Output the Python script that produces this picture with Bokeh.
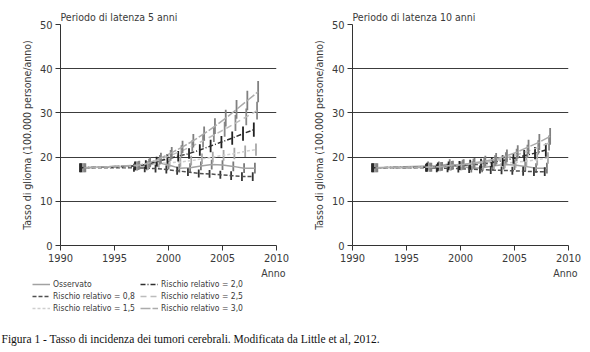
from bokeh.plotting import figure
from bokeh.layouts import column, row
from bokeh.models import ColumnDataSource, Label, Legend, LegendItem, Range1d, FixedTicker, Title
from bokeh.embed import file_html
from bokeh.resources import INLINE

# ---------------- data ----------------
years = [1992, 1997, 1998, 1999, 2000, 2001, 2002, 2003, 2004, 2005, 2006, 2007, 2008]

series_names = ["Osservato", "Rischio relativo = 0,8", "Rischio relativo = 1,5",
                "Rischio relativo = 2,0", "Rischio relativo = 2,5", "Rischio relativo = 3,0"]

# Panel 1: latency period 5 years
p5_obs  = [17.6, 18.0, 18.0, 18.8, 18.2, 17.5, 17.6, 18.0, 18.3, 18.2, 17.9, 17.5, 17.5]
p5_rr08 = [17.6, 17.6, 17.5, 17.4, 17.2, 16.9, 16.6, 16.3, 16.2, 16.0, 15.8, 15.6, 15.6]
p5_rr15 = [17.6, 17.9, 18.1, 18.6, 18.7, 18.9, 19.2, 19.6, 20.0, 20.4, 20.8, 21.3, 21.7]
p5_rr20 = [17.6, 18.0, 18.3, 19.0, 19.6, 20.2, 20.8, 21.6, 22.5, 23.4, 24.3, 25.3, 26.2]
p5_rr25 = [17.6, 18.1, 18.6, 19.4, 20.4, 21.4, 22.5, 23.7, 25.0, 26.3, 27.7, 29.1, 30.5]
p5_rr30 = [17.6, 18.2, 18.8, 19.8, 21.0, 22.3, 23.7, 25.3, 27.0, 28.8, 30.8, 32.8, 34.8]

p5_err_obs  = [1.0, 1.0, 1.0, 1.0, 1.0, 1.0, 1.0, 1.0, 1.1, 1.1, 1.1, 1.1, 1.2]
p5_err_rr08 = [1.0, 0.9, 0.9, 0.9, 0.9, 0.9, 0.9, 0.9, 0.9, 0.9, 1.0, 1.0, 1.0]
p5_err_rr15 = [1.0, 1.0, 1.0, 1.0, 1.0, 1.1, 1.1, 1.2, 1.2, 1.2, 1.3, 1.3, 1.4]
p5_err_rr20 = [1.0, 1.0, 1.0, 1.1, 1.1, 1.2, 1.2, 1.3, 1.4, 1.4, 1.5, 1.6, 1.6]
p5_err_rr25 = [1.0, 1.0, 1.0, 1.1, 1.2, 1.3, 1.3, 1.5, 1.6, 1.7, 1.8, 1.9, 2.0]
p5_err_rr30 = [1.0, 1.0, 1.1, 1.2, 1.3, 1.4, 1.5, 1.6, 1.8, 1.9, 2.1, 2.2, 2.4]

# Panel 2: latency period 10 years
p10_obs  = [17.6, 18.0, 18.0, 18.5, 18.0, 17.5, 17.6, 18.0, 18.3, 18.2, 17.9, 17.5, 17.5]
p10_rr08 = [17.6, 17.6, 17.5, 17.5, 17.4, 17.3, 17.2, 17.1, 17.0, 16.9, 16.8, 16.7, 16.7]
p10_rr15 = [17.6, 17.7, 17.8, 17.9, 18.0, 18.1, 18.2, 18.4, 18.6, 18.8, 19.1, 19.4, 19.8]
p10_rr20 = [17.6, 17.7, 17.8, 18.0, 18.1, 18.3, 18.5, 18.8, 19.2, 19.7, 20.3, 20.9, 21.6]
p10_rr25 = [17.6, 17.7, 17.9, 18.1, 18.3, 18.5, 18.8, 19.2, 19.8, 20.5, 21.3, 22.2, 23.2]
p10_rr30 = [17.6, 17.7, 17.9, 18.2, 18.4, 18.7, 19.1, 19.6, 20.3, 21.2, 22.3, 23.4, 24.7]

p10_err_obs  = [1.0, 1.0, 1.0, 1.0, 1.0, 1.0, 1.0, 1.0, 1.1, 1.1, 1.1, 1.1, 1.2]
p10_err_rr08 = [1.0, 0.9, 0.9, 0.9, 0.9, 0.9, 0.9, 0.9, 0.9, 0.9, 1.0, 1.0, 1.0]
p10_err_rr15 = [1.0, 1.0, 1.0, 1.0, 1.0, 1.0, 1.1, 1.1, 1.1, 1.2, 1.2, 1.3, 1.3]
p10_err_rr20 = [1.0, 1.0, 1.0, 1.0, 1.0, 1.1, 1.1, 1.1, 1.2, 1.2, 1.3, 1.4, 1.5]
p10_err_rr25 = [1.0, 1.0, 1.0, 1.0, 1.1, 1.1, 1.1, 1.2, 1.3, 1.4, 1.5, 1.6, 1.7]
p10_err_rr30 = [1.0, 1.0, 1.0, 1.0, 1.1, 1.1, 1.2, 1.3, 1.4, 1.5, 1.6, 1.8, 1.9]

x_ticks = [1990, 1995, 2000, 2005, 2010]
y_ticks = [0, 10, 20, 30, 40, 50]

# ---------------- styles ----------------
FONT = "'Liberation Sans Narrow', 'DejaVu Sans Condensed', 'Roboto Condensed', sans-serif"
TXT = "#3a3a3a"
styles = [
    dict(color="#a2a2a2", dash="solid", err="#7a7a7a", dodge=0.0),
    dict(color="#505050", dash="4 2", err="#333333", dodge=-0.2),
    dict(color="#cfcfcf", dash="3 2", err="#a8a8a8", dodge=0.1),
    dict(color="#2e2e2e", dash="5 2 1 2", err="#222222", dodge=-0.1),
    dict(color="#bcbcbc", dash="6 4", err="#888888", dodge=0.2),
    dict(color="#ababab", dash="10 2", err="#808080", dodge=0.3),
]


def make_panel(title, vals, errs, left_border, right_border):
    p = figure(width=left_border + 216 + right_border, height=278,
               x_range=Range1d(1990, 2010), y_range=Range1d(0, 50),
               output_backend="svg", toolbar_location=None,
               min_border_left=left_border, min_border_right=right_border,
               min_border_top=24, min_border_bottom=33)
    p.outline_line_color = None
    p.background_fill_color = "white"
    p.border_fill_color = "white"
    p.title.text = title
    p.title.text_font = FONT
    p.title.text_font_size = "10.5px"
    p.title.text_font_style = "normal"
    p.title.text_color = TXT
    p.title.standoff = 3
    p.title.offset = 0

    p.xgrid.grid_line_color = None
    p.ygrid.grid_line_color = "#3c3c3c"
    p.ygrid.grid_line_width = 1
    p.ygrid.ticker = FixedTicker(ticks=y_ticks)

    p.xaxis.ticker = FixedTicker(ticks=x_ticks)
    p.yaxis.ticker = FixedTicker(ticks=y_ticks)
    for ax in (p.xaxis[0], p.yaxis[0]):
        ax.axis_line_color = "#333333"
        ax.major_tick_line_color = "#333333"
        ax.major_tick_in = 0
        ax.major_tick_out = 5
        ax.minor_tick_line_color = None
        ax.major_label_text_font = FONT
        ax.major_label_text_font_size = "11px"
        ax.major_label_text_color = TXT
        ax.major_label_standoff = 3
    p.yaxis.axis_label = "Tasso di glioma (100.000 persone/anno)"
    p.yaxis.axis_label_text_font = FONT
    p.yaxis.axis_label_text_font_size = "10.5px"
    p.yaxis.axis_label_text_font_style = "normal"
    p.yaxis.axis_label_text_color = TXT
    p.yaxis.axis_label_standoff = 4

    p.add_layout(Title(text="Anno", align="right", offset=-9, standoff=0,
                       text_font=FONT, text_font_size="10.5px",
                       text_font_style="normal", text_color=TXT), "below")

    for v, e, st in zip(vals, errs, styles):
        xs = [yr + st["dodge"] for yr in years]
        src = ColumnDataSource(dict(x=xs, y=v,
                                    lo=[a - b for a, b in zip(v, e)],
                                    hi=[a + b for a, b in zip(v, e)]))
        p.segment(x0="x", x1="x", y0="lo", y1="hi", source=src,
                  line_color=st["err"], line_width=1.8)
        p.line("x", "y", source=src, line_color=st["color"], line_width=1.5,
               line_dash=st["dash"])
    return p


p1 = make_panel("Periodo di latenza 5 anni",
                [p5_obs, p5_rr08, p5_rr15, p5_rr20, p5_rr25, p5_rr30],
                [p5_err_obs, p5_err_rr08, p5_err_rr15, p5_err_rr20, p5_err_rr25, p5_err_rr30],
                60, 19)
p2 = make_panel("Periodo di latenza 10 anni",
                [p10_obs, p10_rr08, p10_rr15, p10_rr20, p10_rr25, p10_rr30],
                [p10_err_obs, p10_err_rr08, p10_err_rr15, p10_err_rr20, p10_err_rr25, p10_err_rr30],
                57, 22)

# ---------------- legend + caption ----------------
pb = figure(width=590, height=74, x_range=Range1d(0, 590), y_range=Range1d(0, 74),
            output_backend="svg", toolbar_location=None,
            min_border=0, min_border_left=0, min_border_right=0,
            min_border_top=0, min_border_bottom=0)
pb.axis.visible = False
pb.grid.visible = False
pb.outline_line_color = None

items = []
for name, st in zip(series_names, styles):
    # legend-only renderer: placed outside the visible range
    r = pb.line(x=[-100, -90], y=[-100, -100], line_color=st["color"], line_width=1.5,
                line_dash=st["dash"])
    items.append(LegendItem(label=name, renderers=[r]))


def make_legend(its, loc):
    return Legend(items=its, location=loc, orientation="vertical",
                  glyph_width=18, glyph_height=10, label_height=12, spacing=0,
                  padding=0, margin=0, label_standoff=3,
                  label_text_font=FONT, label_text_font_size="8.5px",
                  label_text_color=TXT, border_line_color=None,
                  background_fill_alpha=0)


pb.add_layout(make_legend(items[:3], (32, 38)))
pb.add_layout(make_legend(items[3:], (140, 38)))

pb.add_layout(Label(x=1, y=14, text="Figura 1 - Tasso di incidenza dei tumori cerebrali. Modificata da Little et al, 2012.",
                    text_font="'Liberation Serif', 'DejaVu Serif', serif", text_font_size="11.5px",
                    text_color="#111111", text_baseline="middle", text_align="left"))

layout = column(row(p1, p2), pb)
open("out.html", "w").write(file_html(layout, INLINE))
